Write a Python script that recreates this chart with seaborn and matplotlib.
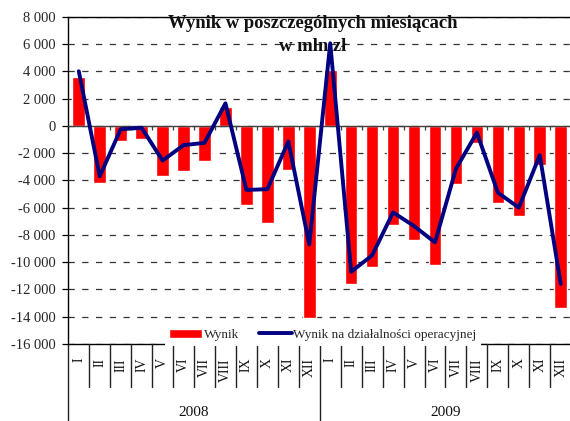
import numpy as np
import pandas as pd
import matplotlib
matplotlib.use("Agg")
import matplotlib.pyplot as plt
import matplotlib.transforms as mtransforms
from matplotlib.ticker import FuncFormatter
import seaborn as sns

# data (mln zl)
months = ["I", "II", "III", "IV", "V", "VI", "VII", "VIII", "IX", "X", "XI", "XII"]
years = ["2008", "2009"]
wynik_2008 = [3550, -4200, -1150, -1000, -3650, -3300, -2550, 1400, -5800, -7150, -3250, -14100]
wynik_2009 = [4100, -11600, -10350, -7300, -8350, -10200, -4300, -1250, -5650, -6600, -2850, -13350]
oper_2008 = [4000, -3700, -250, -150, -2550, -1420, -1250, 1650, -4700, -4650, -1150, -8700]
oper_2009 = [6050, -10700, -9500, -6350, -7350, -8550, -3150, -500, -4900, -6000, -2150, -11600]

df = pd.DataFrame({
    "pos": np.arange(len(months) * len(years)),
    "month": months * len(years),
    "Wynik": wynik_2008 + wynik_2009,
    "Operacyjny": oper_2008 + oper_2009,
})

sns.set_theme(style="white")
plt.rcParams["font.family"] = ["Liberation Serif", "DejaVu Serif"]

fig = plt.figure(figsize=(5.70, 4.21), dpi=100)
W, H = 570, 421
ax_l, ax_r, ax_t, ax_b = 68.3, 571.2, 16.7, 344.0
ax = fig.add_axes([ax_l / W, 1 - ax_b / H, (ax_r - ax_l) / W, (ax_b - ax_t) / H])
ax_h = ax_b - ax_t

sns.barplot(data=df, x="pos", y="Wynik", color="#FF0000", saturation=1,
            width=0.6, ax=ax, label="Wynik", zorder=2)
sns.lineplot(data=df, x="pos", y="Operacyjny", color="#000080", lw=2.8,
             ax=ax, label="Wynik na działalności operacyjnej", zorder=3)

ax.set_xlim(-0.5, len(df) - 0.5)
ax.set_ylim(-16000, 8000)
ax.set_xlabel("")
ax.set_ylabel("")

# y axis
ax.set_yticks(np.arange(-16000, 8001, 2000))
ax.yaxis.set_major_formatter(FuncFormatter(lambda v, p: f"{v:,.0f}".replace(",", " ")))
ax.tick_params(axis="y", direction="out", length=4.2, width=0.9, color="black",
               labelsize=10.5, pad=5, left=True)
ax.yaxis.grid(True, color="#333333", lw=0.9, ls=(0, (5, 6)), zorder=1)
ax.xaxis.grid(False)

# category axis sits on zero
ax.spines["bottom"].set_position(("data", 0))
ax.spines["bottom"].set_color("#404040")
ax.spines["bottom"].set_linewidth(1)
ax.spines["left"].set_color("black")
ax.spines["left"].set_linewidth(1)
ax.spines["top"].set_color("black")
ax.spines["top"].set_linewidth(1)
ax.spines["right"].set_visible(False)
ax.set_xticks(np.arange(-0.5, len(df), 1))
ax.tick_params(axis="x", direction="out", length=3, width=0.9, color="#404040",
               labelbottom=False, bottom=True)
ax.axhline(-16000, color="black", lw=1, clip_on=False, zorder=2)

# multi-level labels below the plot
trans = mtransforms.blended_transform_factory(ax.transData, ax.transAxes)
for k in range(len(df) + 1):
    y_end = -(H - ax_b) / ax_h if k % 12 == 0 else -43 / ax_h
    ax.plot([k - 0.5, k - 0.5], [0, y_end], transform=trans, color="#222222",
            lw=1, clip_on=False, zorder=2)
for i, m in enumerate(df["month"]):
    ax.text(i, -14 / ax_h, m, transform=trans, rotation=90, ha="center", va="top",
            fontsize=10, color="#111111")
for j, yr in enumerate(years):
    ax.text(j * 12 + 5.5, -68 / ax_h, yr, transform=trans, ha="center", va="center",
            fontsize=11, color="#111111")

# title inside the plot
tx = (313 - ax_l) / (ax_r - ax_l)
ax.text(tx, (ax_b - 24) / ax_h, "Wynik w poszczególnych miesiącach",
        transform=ax.transAxes, ha="center", va="center", fontsize=13.4,
        fontweight="bold", color="#111111")
ax.text(tx, (ax_b - 47) / ax_h, "w mln zł", transform=ax.transAxes,
        ha="center", va="center", fontsize=13.4, fontweight="bold", color="#111111")

handles, labels = ax.get_legend_handles_labels()
order = [labels.index("Wynik"), labels.index("Wynik na działalności operacyjnej")]
leg = ax.legend([handles[i] for i in order], [labels[i] for i in order],
                loc="center", bbox_to_anchor=(0.506, 0.028),
                ncol=2, fontsize=9.5, frameon=True, fancybox=False, framealpha=1,
                facecolor="white", edgecolor="none", handlelength=2.5,
                handletextpad=0.1, columnspacing=1.5, borderpad=0.35,
                borderaxespad=0)
leg.set_zorder(5)

plt.savefig("out.png", dpi=100)
